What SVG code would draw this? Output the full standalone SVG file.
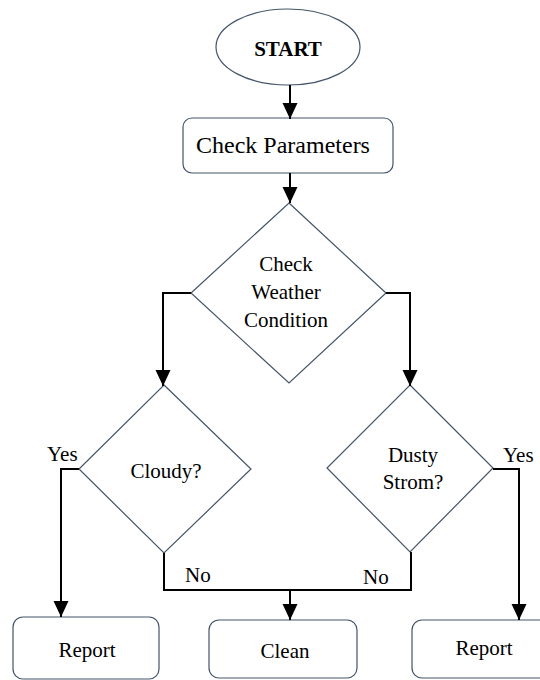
<svg xmlns="http://www.w3.org/2000/svg" width="540" height="680" viewBox="0 0 540 680">
<defs>
<style>
.shape{fill:#ffffff;stroke:#44546a;stroke-width:1.2}
.conn{fill:none;stroke:#000000;stroke-width:2}
text{font-family:"Liberation Serif","Times New Roman",serif;font-size:21px;fill:#000000}
.c{text-anchor:middle}
</style>
<marker id="arr" markerUnits="userSpaceOnUse" markerWidth="16" markerHeight="16" refX="16" refY="7.5" orient="auto">
<path d="M0,0 L16,7.5 L0,15 Z" fill="#000000"/>
</marker>
</defs>
<rect width="540" height="680" fill="#ffffff"/>
<g id="start">
<ellipse class="shape" cx="288" cy="47" rx="72" ry="38"/>
<text class="c" x="288" y="56" font-weight="bold">START</text>
</g>
<g id="check-parameters">
<rect class="shape" x="183" y="118" width="210" height="55" rx="9"/>
<text class="c" x="283" y="153" style="font-size:24px">Check Parameters</text>
</g>
<g id="check-weather">
<polygon class="shape" points="289,203 386,293 289,383 191,293"/>
<text class="c" x="286" y="271">Check</text>
<text class="c" x="286" y="299">Weather</text>
<text class="c" x="286" y="327">Condition</text>
</g>
<g id="cloudy">
<polygon class="shape" points="164,385 251,469 164,553 79,469"/>
<text class="c" x="166" y="478">Cloudy?</text>
</g>
<g id="dusty">
<polygon class="shape" points="410,385 493,468 410,552 327,468"/>
<text class="c" x="413" y="462">Dusty</text>
<text class="c" x="413" y="489">Strom?</text>
</g>
<g id="report-left">
<rect class="shape" x="13" y="617" width="146" height="62" rx="10"/>
<text class="c" x="87" y="657">Report</text>
</g>
<g id="clean">
<rect class="shape" x="209" y="620" width="148" height="58" rx="10"/>
<text class="c" x="285" y="658">Clean</text>
</g>
<g id="report-right">
<rect class="shape" x="412" y="620" width="140" height="58" rx="10"/>
<text class="c" x="484" y="655">Report</text>
</g>
<g id="connectors">
<path class="conn" d="M290,85 V119" marker-end="url(#arr)"/>
<path class="conn" d="M290,173 V203" marker-end="url(#arr)"/>
<path class="conn" d="M191,293 H163 V386" marker-end="url(#arr)"/>
<path class="conn" d="M386,293 H410 V386" marker-end="url(#arr)"/>
<path class="conn" d="M79,469 H61 V617" marker-end="url(#arr)"/>
<path class="conn" d="M493,469 H519 V620" marker-end="url(#arr)"/>
<path class="conn" d="M164,553 V590 H411 V552"/>
<path class="conn" d="M290,590 V620" marker-end="url(#arr)"/>
<text x="47" y="461">Yes</text>
<text x="503" y="462">Yes</text>
<text x="185" y="582">No</text>
<text x="363" y="584">No</text>
</g>
</svg>
